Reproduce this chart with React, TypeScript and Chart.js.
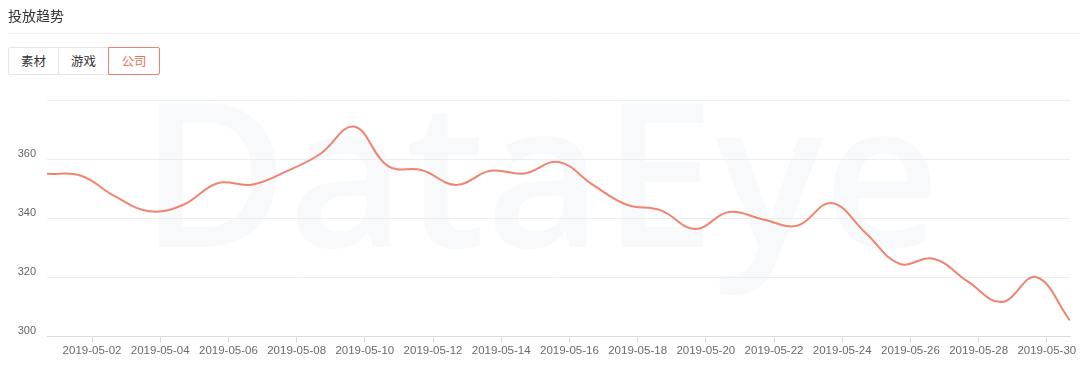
import React, { useEffect, useRef } from 'react';
import { Chart, registerables } from 'chart.js';

Chart.register(...registerables);

const dates = [
  '2019-05-01', '2019-05-02', '2019-05-03', '2019-05-04', '2019-05-05', '2019-05-06',
  '2019-05-07', '2019-05-08', '2019-05-09', '2019-05-10', '2019-05-11', '2019-05-12',
  '2019-05-13', '2019-05-14', '2019-05-15', '2019-05-16', '2019-05-17', '2019-05-18',
  '2019-05-19', '2019-05-20', '2019-05-21', '2019-05-22', '2019-05-23', '2019-05-24',
  '2019-05-25', '2019-05-26', '2019-05-27', '2019-05-28', '2019-05-29', '2019-05-30',
  '2019-05-31',
];

const values = [
  355, 354.3, 347.3, 342.3, 344.5, 351.8,
  351.3, 355.7, 361.6, 371, 357.6, 356.2,
  351.2, 356, 355.1, 359, 351.3, 344.5,
  342.6, 336.3, 342, 339.5, 337.4, 345.1,
  335, 324.5, 326.2, 318.5, 311.5, 320,
  305.3,
];

const tickLabels = [
  '2019-05-02', '2019-05-04', '2019-05-06', '2019-05-08', '2019-05-10',
  '2019-05-12', '2019-05-14', '2019-05-16', '2019-05-18', '2019-05-20',
  '2019-05-22', '2019-05-24', '2019-05-26', '2019-05-28', '2019-05-30',
];

const yTickValues = [300, 320, 340, 360, 380];
const yTickLabels = ['300', '320', '340', '360', ''];

const tabs = ['素材', '游戏', '公司'];
const activeTab = 2;
const title = '投放趋势';
const watermark = 'DataEye';

const TICK_SHIFT = 0.32;
const LINE_COLOR = '#ef8470';

const watermarkPlugin = {
  id: 'watermark',
  beforeDraw(chart: any) {
    const ctx = chart.ctx;
    ctx.save();
    let size = 216;
    ctx.font = `600 ${size}px "Open Sans", sans-serif`;
    const w = ctx.measureText(watermark).width;
    size = size * 800 / w;
    ctx.font = `600 ${size}px "Open Sans", sans-serif`;
    ctx.fillStyle = '#f8f9fb';
    ctx.textBaseline = 'alphabetic';
    ctx.textAlign = 'left';
    ctx.fillText(watermark, 140, 247);
    ctx.restore();
  },
};

export default function App() {
  const ref = useRef<HTMLCanvasElement | null>(null);

  useEffect(() => {
    if (!ref.current) return;
    const chart = new Chart(ref.current, {
      type: 'line',
      data: {
        datasets: [
          {
            data: values.map((v, i) => ({ x: i, y: v })),
            borderColor: LINE_COLOR,
            borderWidth: 2,
            pointRadius: 0,
            tension: 0.4,
            fill: false,
          },
        ],
      },
      options: {
        animation: false,
        responsive: false,
        maintainAspectRatio: false,
        layout: { padding: { top: 100, right: 10, left: 0, bottom: 0 } },
        plugins: {
          legend: { display: false },
          tooltip: { enabled: false },
        },
        scales: {
          x: {
            type: 'linear',
            min: 0,
            max: dates.length - 1,
            afterBuildTicks: (scale: any) => {
              scale.ticks = tickLabels.map((l) => ({ value: dates.indexOf(l) + TICK_SHIFT }));
            },
            afterFit: (scale: any) => {
              scale.height = 30;
            },
            grid: {
              display: true,
              drawOnChartArea: false,
              drawTicks: true,
              tickLength: 7,
              color: '#dcdcdc',
            },
            border: { display: true, color: '#dcdcdc' },
            ticks: {
              autoSkip: false,
              maxRotation: 0,
              padding: 1,
              color: '#6a6a6a',
              font: { family: '"Liberation Sans", Arial, sans-serif', size: 11.5 },
              callback: (_v: any, i: number) => tickLabels[i],
            },
          },
          y: {
            min: 300,
            max: 380,
            afterBuildTicks: (scale: any) => {
              scale.ticks = yTickValues.map((v) => ({ value: v }));
            },
            afterFit: (scale: any) => {
              scale.width = 47;
            },
            grid: {
              color: '#eceef1',
              drawTicks: false,
            },
            border: { display: false },
            ticks: {
              padding: 11,
              labelOffset: -5,
              color: '#666',
              font: { family: '"Liberation Sans", Arial, sans-serif', size: 11 },
              callback: (_v: any, i: number) => yTickLabels[i],
            },
          },
        },
      },
      plugins: [watermarkPlugin],
    } as any);
    return () => chart.destroy();
  }, []);

  const tabLefts = [8, 58, 108];
  const tabWidths = [51, 51, 52];

  return (
    <div
      style={{
        position: 'absolute',
        left: 0,
        top: 0,
        width: 1080,
        height: 366,
        background: '#fff',
        overflow: 'hidden',
        fontFamily: '"Noto Sans CJK SC", sans-serif',
      }}
    >
      <canvas
        ref={ref}
        width={1080}
        height={366}
        style={{ position: 'absolute', left: 0, top: 0, width: 1080, height: 366 }}
      />
      <div
        style={{
          position: 'absolute',
          left: 8,
          top: 5,
          fontSize: 14,
          lineHeight: '20px',
          color: '#333',
        }}
      >
        {title}
      </div>
      <div
        style={{
          position: 'absolute',
          left: 8,
          top: 33,
          width: 1072,
          height: 1,
          background: '#eef0f3',
        }}
      />
      {tabs.map((t, i) => (
        <div
          key={t}
          style={{
            position: 'absolute',
            left: tabLefts[i],
            top: 47,
            width: tabWidths[i],
            height: 28,
            boxSizing: 'border-box',
            border: `1px solid ${i === activeTab ? '#e8826e' : '#e6e6e6'}`,
            borderRadius: i === 0 ? '2px 0 0 2px' : i === tabs.length - 1 ? '0 2px 2px 0' : 0,
            zIndex: i === activeTab ? 2 : 1,
            background: '#fff',
            color: i === activeTab ? '#e8735c' : '#333',
            fontSize: 12.5,
            lineHeight: '26px',
            textAlign: 'center',
          }}
        >
          {t}
        </div>
      ))}
    </div>
  );
}
